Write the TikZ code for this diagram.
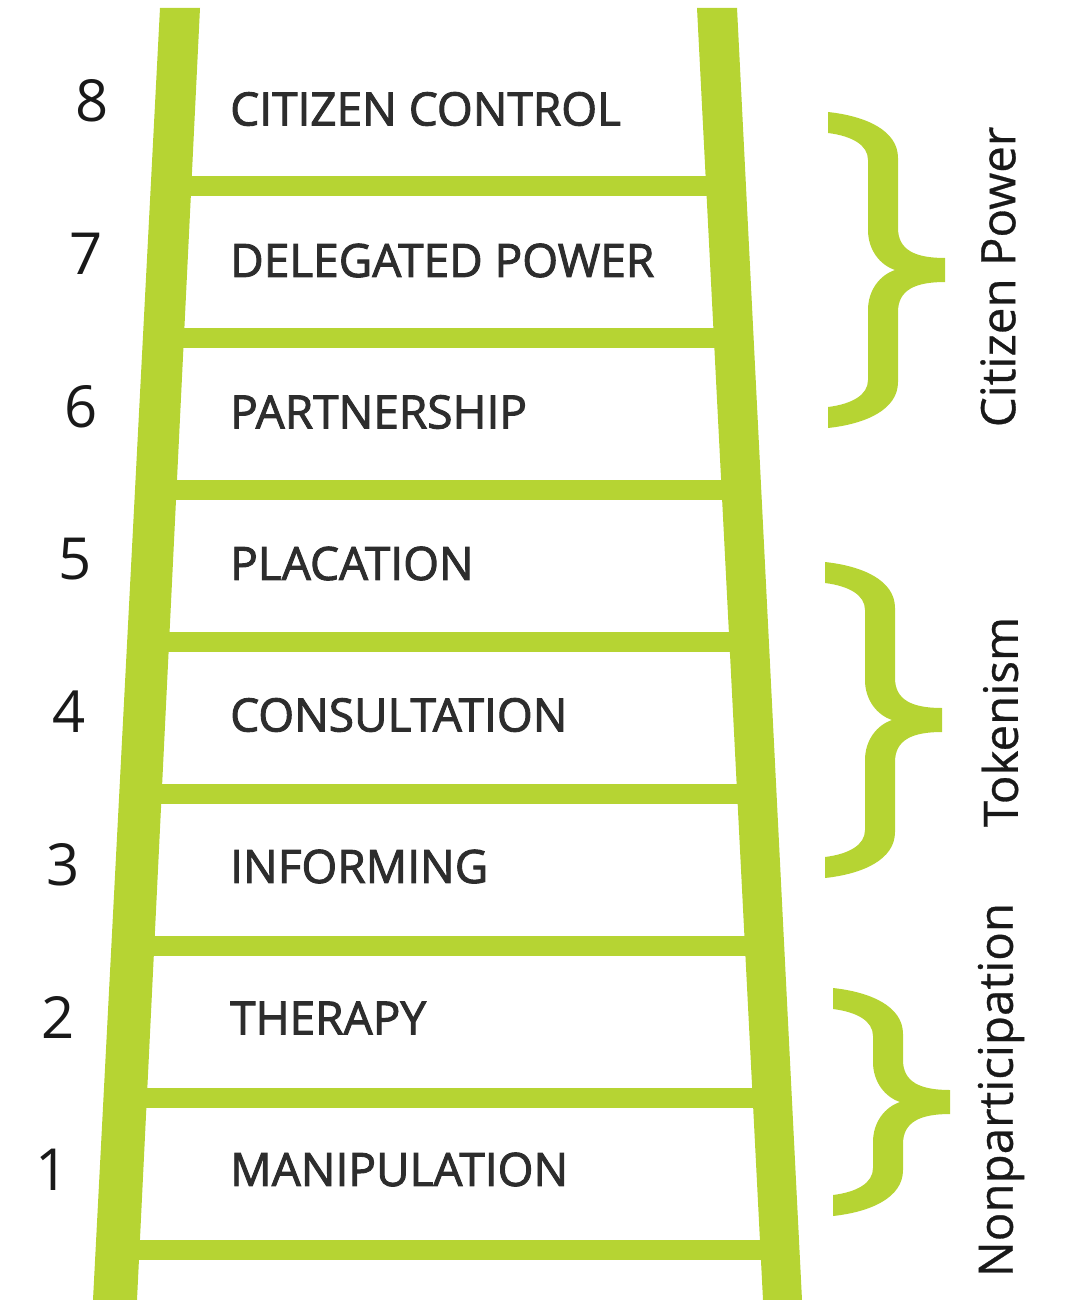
\documentclass[tikz,border=0pt]{standalone}
\usepackage{fontspec}
\setmainfont{Open Sans}
\newfontfamily\labfont[FakeBold=2]{Open Sans}
\newfontfamily\grpfont[FakeBold=0.6]{Open Sans}
\definecolor{ladder}{RGB}{182,212,51}
\definecolor{labtxt}{RGB}{45,45,45}
\definecolor{numtxt}{RGB}{25,25,25}
\begin{document}
\begin{tikzpicture}[x=1pt,y=-1pt,
  rail/.style={fill=ladder,draw=none},
  rung/.style={draw=ladder,line width=20pt},
  bracefill/.style={fill=ladder,draw=none},
  steplabel/.style={anchor=west,inner sep=0pt,text=labtxt,font=\labfont\fontsize{46}{54}\selectfont},
  stepnum/.style={anchor=center,inner sep=0pt,text=numtxt,font=\fontsize{58}{66}\selectfont},
  grouplabel/.style={anchor=center,inner sep=0pt,rotate=90,text=numtxt,font=\grpfont\fontsize{47.5}{56}\selectfont}]
\useasboundingbox (0,0) rectangle (1076,1300);
% rails
\fill[rail] (160,8) -- (200,8) -- (137,1300) -- (93,1300) -- cycle;
\fill[rail] (697,8) -- (737,8) -- (802,1300) -- (763,1300) -- cycle;
% rungs
\foreach \k in {0,...,7}{
  \pgfmathsetmacro{\yy}{186+152*\k}
  \pgfmathsetmacro{\xl}{180-0.0503*(\yy-8)}
  \pgfmathsetmacro{\xr}{717+0.0507*(\yy-8)}
  \draw[rung] (\xl,\yy) -- (\xr,\yy);
}
% step labels
\foreach \t [count=\i from 0] in {CITIZEN CONTROL,DELEGATED POWER,PARTNERSHIP,PLACATION,CONSULTATION,INFORMING,THERAPY,MANIPULATION}{
  \pgfmathsetmacro{\yy}{109+151.5*\i}
  \node[steplabel] (lab\i) at (230,\yy) {\t};
}
% numbers
\foreach \n [count=\i from 0] in {8,7,6,5,4,3,2,1}{
  \pgfmathsetmacro{\yy}{101+152.7*\i}
  \pgfmathsetmacro{\xx}{92-5.7*\i}
  \node[stepnum] (num\n) at (\xx,\yy) {\n};
}
% braces (filled outlines, centre y / shortening d / x shift)
\foreach \cy/\d/\dx in {270/0/0, 720/0/-3, 1102/44/5}{
  \pgfmathsetmacro{\pa}{158-\d}
  \pgfmathsetmacro{\pb}{154-\d}
  \pgfmathsetmacro{\pc}{140-\d}
  \pgfmathsetmacro{\pe}{112-\d}
  \pgfmathsetmacro{\pf}{137-\d}
  \pgfmathsetmacro{\pg}{134-\d}
  \pgfmathsetmacro{\ph}{125-\d}
  \pgfmathsetmacro{\pi}{110-\d}
  \begin{scope}[shift={(\dx,\cy)}]
    \fill[bracefill] (828,-\pa) .. controls (865,-\pb) and (898,-\pc) .. (898,-\pe)
      -- (898,-42) .. controls (898,-20) and (915,-12) .. (945,-12)
      -- (945,12) .. controls (915,12) and (898,20) .. (898,42)
      -- (898,\pe) .. controls (898,\pc) and (865,\pb) .. (828,\pa)
      -- (828,\pf) .. controls (852,\pg) and (868,\ph) .. (868,\pi)
      -- (868,40) .. controls (868,20) and (880,5) .. (895,0)
      .. controls (880,-5) and (868,-20) .. (868,-40)
      -- (868,-\pi) .. controls (868,-\ph) and (852,-\pg) .. (828,-\pf)
      -- cycle;
  \end{scope}
}
% group labels
\node[grouplabel] (g1) at (998,277) {Citizen Power};
\node[grouplabel] (g2) at (1000,722) {Tokenism};
\node[grouplabel] (g3) at (1001,1090) {Nonparticipation};
\end{tikzpicture}
\end{document}
